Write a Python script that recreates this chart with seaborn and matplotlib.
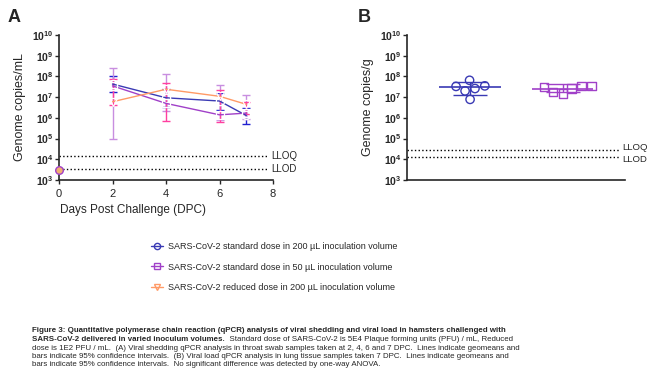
import numpy as np
import pandas as pd
import matplotlib
matplotlib.use("Agg")
import matplotlib.pyplot as plt
import matplotlib.ticker as mtick
from matplotlib.lines import Line2D
import seaborn as sns

sns.set_theme(style="ticks")
plt.rcParams["font.family"] = ["Liberation Sans", "DejaVu Sans"]

# ---- panel A: viral shedding (throat swab) ----
DAYS = [2, 4, 6, 7]
GROUPS = [
    "SARS-CoV-2 standard dose in 200 \u00b5L inoculation volume",
    "SARS-CoV-2 standard dose in 50 \u00b5L inoculation volume",
    "SARS-CoV-2 reduced dose in 200 \u00b5L inoculation volume",
]
STD200_MEAN = [4.3e7, 9.3e6, 6.5e6, 1.3e6]
STD200_LO = [1.8e7, 3.5e6, 2.5e6, 5.0e5]
STD200_HI = [1.05e8, 2.5e7, 1.6e7, 3.0e6]
STD50_MEAN = [3.5e7, 5.0e6, 1.4e6, 1.7e6]
STD50_LO = [1.0e5, 2.2e6, 8.0e5, 9.0e5]
STD50_HI = [2.6e8, 1.26e8, 3.8e7, 1.3e7]
RED200_MEAN = [6.0e6, 2.4e7, 1.1e7, 4.5e6]
RED200_LO = [4.0e6, 7.0e5, 6.0e5, 1.5e6]
RED200_HI = [7.5e7, 5.0e7, 2.2e7, 6.0e6]
DAY0_VALUE = 3.2e3

LLOQ_A, LLOD_A = 1.4e4, 3.4e3

# ---- panel B: lung viral load (7 DPC) ----
LUNG_STD200 = [3.5e7, 2.6e7, 6.5e7, 2.0e7, 3.3e7, 7.8e6]
LUNG_STD50 = [3.2e7, 1.5e7, 3.5e7, 3.5e7, 1.8e7, 2.6e7]
LUNG_GEO = [3.1e7, 2.6e7]
LUNG_LO = [1.26e7, 1.8e7]
LUNG_HI = [5.2e7, 4.3e7]
LLOQ_B, LLOD_B = 2.8e4, 1.3e4

LINE_COLORS = ["#3a3ab4", "#a040c8", "#ff9a66"]
BAR_COLORS = ["#2020d0", "#c88ee0", "#ff3fa0"]
MARKERS = ["o", "s", "v"]
MEANS = [STD200_MEAN, STD50_MEAN, RED200_MEAN]
LOS = [STD200_LO, STD50_LO, RED200_LO]
HIS = [STD200_HI, STD50_HI, RED200_HI]

fig = plt.figure(figsize=(6.57, 3.85), dpi=100)
W, H = 657, 385
axA = fig.add_axes([59 / W, 1 - 180 / H, (273 - 59) / W, 145 / H])
axB = fig.add_axes([407 / W, 1 - 180 / H, (625 - 407) / W, 145 / H])

rows = []
for g, m in zip(GROUPS, MEANS):
    for d, v in zip(DAYS, m):
        rows.append({"day": d, "value": v, "group": g})
shed = pd.DataFrame(rows)

sns.lineplot(data=shed, x="day", y="value", hue="group", style="group",
             palette=LINE_COLORS, markers=MARKERS, dashes=False, ax=axA,
             linewidth=1.0, markersize=6, markerfacecolor="none",
             markeredgewidth=0.9, legend=False)
for m, lo, hi, c in zip(MEANS, LOS, HIS, BAR_COLORS):
    m, lo, hi = np.array(m), np.array(lo), np.array(hi)
    axA.errorbar(DAYS, m, yerr=[m - lo, hi - m], fmt="none", ecolor=c,
                 elinewidth=1.0, capsize=3, capthick=1.0, zorder=1)
# day 0: all groups below detection
axA.scatter([0], [DAY0_VALUE], s=30, facecolors="#f0b070",
            edgecolors=LINE_COLORS[1], linewidths=1.0, zorder=5, clip_on=False)

# panel B
lung = pd.DataFrame({
    "group": ["std200"] * len(LUNG_STD200) + ["std50"] * len(LUNG_STD50),
    "value": LUNG_STD200 + LUNG_STD50,
})
for i, (g, mk) in enumerate([("std200", "o"), ("std50", "s")]):
    sub = lung.copy()
    sub.loc[sub["group"] != g, "value"] = np.nan
    sns.swarmplot(data=sub, x="group", y="value", order=["std200", "std50"],
                  marker=mk, size=6, color="none", edgecolor=LINE_COLORS[i],
                  linewidth=1.0, ax=axB, log_scale=True)
for coll, c in zip(axB.collections, LINE_COLORS[:2]):
    coll.set_facecolor("none")
    coll.set_edgecolor(c)
for i, c in enumerate(LINE_COLORS[:2]):
    axB.hlines(LUNG_GEO[i], i - 0.33, i + 0.33, color=c, lw=1.2, zorder=3)
    axB.errorbar([i], [LUNG_GEO[i]], yerr=[[LUNG_GEO[i] - LUNG_LO[i]], [LUNG_HI[i] - LUNG_GEO[i]]],
                 fmt="none", ecolor=c, elinewidth=1.0, capsize=12, capthick=1.0)
axB.set_xlim(-0.68, 1.67)
axB.set_xticks([])
axB.set_xlabel("")
axB.set_ylabel("Genome copies/g", fontsize=9)
axB.plot([-0.68, 1.62], [LLOQ_B, LLOQ_B], ls=":", color="black", lw=1.0)
axB.plot([-0.68, 1.62], [LLOD_B, LLOD_B], ls=":", color="black", lw=1.0)
axB.annotate("LLOQ", (1.635, LLOQ_B), xytext=(0, 2), textcoords="offset points",
             fontsize=6.8, va="center", ha="left")
axB.annotate("LLOD", (1.635, LLOD_B), xytext=(0, -1.5), textcoords="offset points",
             fontsize=6.8, va="center", ha="left")

for ax in (axA, axB):
    ax.set_yscale("log")
    ax.set_ylim(1e3, 1e10)
    ax.yaxis.set_major_locator(mtick.FixedLocator([10.0 ** k for k in range(3, 11)]))
    ax.yaxis.set_minor_locator(mtick.NullLocator())
    ax.yaxis.set_major_formatter(mtick.LogFormatterMathtext())
    ax.tick_params(axis="y", labelsize=7.5, length=3, width=1, pad=1)
    for lab in ax.get_yticklabels():
        lab.set_fontweight("bold")
    sns.despine(ax=ax)
    for s in ["left", "bottom"]:
        ax.spines[s].set_linewidth(1.2)

axA.set_xlim(0, 8)
axA.set_xticks([0, 2, 4, 6, 8])
axA.tick_params(axis="x", labelsize=8, length=3, width=1)
axA.set_xlabel("")
axA.set_ylabel("Genome copies/mL", fontsize=9)
axA.plot([0, 7.8], [LLOQ_A, LLOQ_A], ls=":", color="black", lw=1.0)
axA.plot([0, 7.8], [LLOD_A, LLOD_A], ls=":", color="black", lw=1.0)
axA.text(7.95, LLOQ_A, "LLOQ", fontsize=7, va="center", ha="left")
axA.text(7.95, LLOD_A, "LLOD", fontsize=7, va="center", ha="left")

fig.text(8 / W, 1 - 18 / H, "A", fontsize=13, fontweight="bold", va="center")
fig.text(358 / W, 1 - 18 / H, "B", fontsize=13, fontweight="bold", va="center")
fig.text(133 / W, 1 - 210 / H, "Days Post Challenge (DPC)", fontsize=8.5,
         ha="center", va="center")

handles = [Line2D([], [], color=c, marker=mk, markerfacecolor="none", markersize=4.5,
                  lw=1.0) for c, mk in zip(LINE_COLORS, MARKERS)]
fig.legend(handles, GROUPS, loc="center left", bbox_to_anchor=(143 / W, 1 - 267 / H),
           frameon=False, fontsize=6.5, handlelength=1.3, labelspacing=1.25,
           handletextpad=0.6)

# caption
CAP_BOLD1 = ("Figure 3: Quantitative polymerase chain reaction (qPCR) analysis of viral "
             "shedding and viral load in hamsters challenged with")
CAP_BOLD2 = "SARS-CoV-2 delivered in varied inoculum volumes."
CAP_REST2 = "  Standard dose of SARS-CoV-2 is 5E4 Plaque forming units (PFU) / mL, Reduced"
CAP_LINES = [
    "dose is 1E2 PFU / mL.  (A) Viral shedding qPCR analysis in throat swab samples taken "
    "at 2, 4, 6 and 7 DPC.  Lines indicate geomeans and",
    "bars indicate 95% confidence intervals.  (B) Viral load qPCR analysis in lung tissue "
    "samples taken 7 DPC.  Lines indicate geomeans and",
    "bars indicate 95% confidence intervals.  No significant difference was detected by "
    "one-way ANOVA.",
]
cx = 32 / W
cfs = 5.65
ys = [331, 339.5, 348, 356.5, 365]
fig.text(cx, 1 - ys[0] / H, CAP_BOLD1, fontsize=cfs, fontweight="bold", va="center")
t = fig.text(cx, 1 - ys[1] / H, CAP_BOLD2, fontsize=cfs, fontweight="bold", va="center")
fig.canvas.draw()
bb = t.get_window_extent(fig.canvas.get_renderer())
fig.text(bb.x1 / fig.bbox.width, 1 - ys[1] / H, CAP_REST2, fontsize=cfs, va="center")
for y, line in zip(ys[2:], CAP_LINES):
    fig.text(cx, 1 - y / H, line, fontsize=cfs, va="center")

fig.savefig("out.png", dpi=100)
